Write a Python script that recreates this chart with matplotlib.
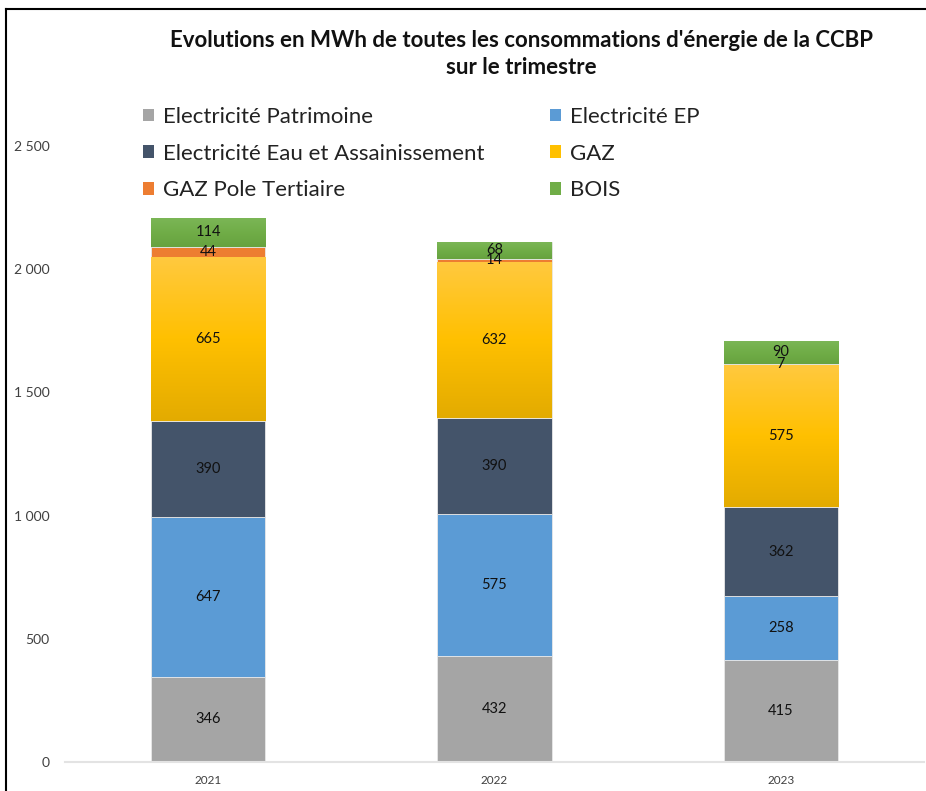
import numpy as np
import matplotlib.pyplot as plt
from matplotlib.lines import Line2D
from matplotlib.patches import Patch
from matplotlib.colors import LinearSegmentedColormap

plt.rcParams['font.family'] = ['Lato', 'DejaVu Sans']

# --------------------------------------------------------------
# Data
# --------------------------------------------------------------
years = ["2021", "2022", "2023"]
series = [
    "Electricité Patrimoine",
    "Electricité EP",
    "Electricité Eau et Assainissement",
    "GAZ",
    "GAZ Pole Tertiaire",
    "BOIS",
]
elec_patrimoine = [346, 432, 415]
elec_ep = [647, 575, 258]
elec_eau = [390, 390, 362]
gaz = [665, 632, 575]
gaz_pole = [44, 14, 7]
bois = [114, 68, 90]

values = [elec_patrimoine, elec_ep, elec_eau, gaz, gaz_pole, bois]
colors = ["#A5A5A5", "#5B9BD5", "#44546A", "#FFC000", "#ED7D31", "#70AD47"]

# --------------------------------------------------------------
# Figure
# --------------------------------------------------------------
fig = plt.figure(figsize=(9.26, 7.91), dpi=100)
ax = fig.add_axes([65 / 926, 1 - 762 / 791, (924 - 65) / 926, (762 - 146) / 791])

x = np.arange(len(years))
bottom = np.zeros(len(years))
gaz_cmap = LinearSegmentedColormap.from_list("gaz", ["#E3AB00", "#FFC000", "#FFC93F"])
bois_cmap = LinearSegmentedColormap.from_list("bois", ["#67A23F", "#70AD47", "#7BB656"])

for name, vals, col in zip(series, values, colors):
    vals = np.array(vals, dtype=float)
    bars = ax.bar(x, vals, 0.4, bottom=bottom, color=col, label=name,
                  edgecolor="#E8E8E8", linewidth=0.6, zorder=2)
    # gradient fill for GAZ and BOIS segments
    if name in ("GAZ", "BOIS"):
        cmap = gaz_cmap if name == "GAZ" else bois_cmap
        for b in bars:
            x0, y0 = b.get_x(), b.get_y()
            grad = np.linspace(0, 1, 256).reshape(-1, 1)
            im = ax.imshow(grad, cmap=cmap, origin="lower", aspect="auto",
                           extent=(x0, x0 + b.get_width(), y0, y0 + b.get_height()),
                           zorder=2.5)
            im.set_clip_path(b)
    for xi, v, bt in zip(x, vals, bottom):
        ax.text(xi, bt + v / 2, f"{int(v)}", ha="center", va="center",
                fontsize=10.5, color="#111111", zorder=3)
    bottom += vals

ax.set_xlim(-0.5, 2.5)
ax.set_ylim(0, 2500)
ax.set_xticks(x)
ax.set_xticklabels(years, fontsize=8.5, color="#404040")
yt = np.arange(0, 2501, 500)
ax.set_yticks(yt)
ax.set_yticklabels([f"{v:,}".replace(",", " ") for v in yt], fontsize=10, color="#404040")
ax.tick_params(length=0, axis="both")
ax.tick_params(axis="y", pad=11)
ax.tick_params(axis="x", pad=9)
for s in ["top", "right", "left"]:
    ax.spines[s].set_visible(False)
ax.spines["bottom"].set_color("#E3E3E3")
ax.spines["bottom"].set_linewidth(1.5)

# --------------------------------------------------------------
# Title and legend
# --------------------------------------------------------------
fig.text(521 / 926, 1 - 54 / 791,
         "Evolutions en MWh de toutes les consommations d'énergie de la CCBP\nsur le trimestre",
         ha="center", va="center", fontsize=16, fontweight="bold",
         linespacing=1.35, color="#111111")

handles = [Patch(facecolor=c) for c in colors]
order = [0, 2, 4, 1, 3, 5]
fig.legend([handles[i] for i in order], [series[i] for i in order],
           ncol=2, loc="upper left", bbox_to_anchor=(123 / 926, 1 - 87 / 791),
           frameon=False, fontsize=16, handlelength=0.5, handleheight=0.5,
           handletextpad=0.4, columnspacing=2.93, labelspacing=0.75,
           labelcolor="#222222")

# border lines
fig.add_artist(Line2D([6 / 926, 1], [1 - 9 / 791, 1 - 9 / 791], color="black", lw=1.5))
fig.add_artist(Line2D([6 / 926, 6 / 926], [0, 1 - 9 / 791], color="black", lw=1.5))

fig.savefig("out.png", dpi=100)
